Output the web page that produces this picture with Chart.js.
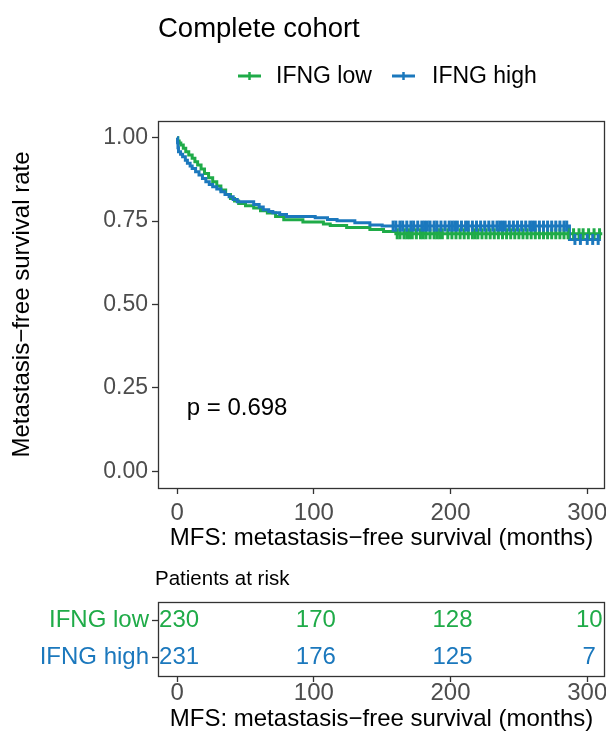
<!DOCTYPE html>
<html>
<head>
<meta charset="utf-8">
<script src="https://cdn.jsdelivr.net/npm/chart.js@4.4.1/dist/chart.umd.min.js"></script>
<style>
  html, body { margin: 0; padding: 0; background: #ffffff; }
  #wrap { position: relative; width: 606px; height: 731px; overflow: hidden; background: #fff; }
  #main { position: absolute; left: 0; top: 0; }
  #risk { position: absolute; left: 0; top: 560px; }
</style>
</head>
<body>
<div id="wrap">
  <canvas id="main" width="606" height="560"></canvas>
  <canvas id="risk" width="606" height="176"></canvas>
</div>
<script>
// ---------------- data ----------------
const groups = ['IFNG low', 'IFNG high'];
const xTicks = [0, 100, 200, 300];
const yTicks = [0, 0.25, 0.5, 0.75, 1];

// Kaplan-Meier steps: time (months) at which survival changes to the value
const lowTimes = [0, 0.5, 1.5, 2.7, 4.5, 6.3, 8.5, 11, 13, 15, 17.5, 20, 23, 26, 29, 32, 35.5, 39, 42, 45, 50, 56, 61, 66, 72, 78, 92, 107, 112, 124, 141, 151, 160, 311];
const lowSurv  = [1.0, 0.99, 0.984, 0.978, 0.968, 0.958, 0.948, 0.938, 0.928, 0.918, 0.906, 0.893, 0.88, 0.868, 0.855, 0.843, 0.83, 0.818, 0.81, 0.803, 0.796, 0.789, 0.781, 0.774, 0.764, 0.754, 0.747, 0.741, 0.737, 0.731, 0.725, 0.719, 0.712, 0.712];

const highTimes = [0, 0.3, 0.6, 1, 2.5, 4, 6, 7.5, 9.5, 11, 13.5, 16, 18.5, 21, 23.5, 26, 29, 32, 35, 38, 41, 44, 56, 60, 63, 67, 70, 75, 80, 101, 110, 117, 130, 141, 150, 287, 310];
const highSurv  = [1.0, 0.985, 0.97, 0.958, 0.95, 0.943, 0.932, 0.923, 0.915, 0.908, 0.898, 0.888, 0.878, 0.868, 0.86, 0.853, 0.846, 0.838, 0.83, 0.823, 0.815, 0.808, 0.8, 0.792, 0.784, 0.779, 0.775, 0.77, 0.764, 0.76, 0.755, 0.751, 0.745, 0.738, 0.735, 0.695, 0.695];

// censoring times (months)
const lowCensor  = [161, 163, 166, 168, 170, 172, 175, 178, 180, 182, 185, 188, 190, 192, 194, 198, 201, 204, 207, 210, 213, 216, 218, 220, 223, 226, 229, 232, 235, 238, 241, 244, 247, 250, 253, 256, 259, 262, 265, 268, 271, 274, 277, 280, 283, 286, 290, 294, 297, 301, 305, 309];
const highCensor = [158, 160, 163, 165, 168, 171, 173, 176, 179, 181, 183, 185, 188, 190, 193, 196, 199, 201, 203, 205, 208, 211, 213, 216, 219, 222, 225, 228, 231, 234, 236, 238, 240, 243, 246, 249, 252, 255, 258, 260, 262, 265, 268, 271, 274, 277, 280, 283, 285, 291, 295, 300, 304, 308];

// patients at risk
const riskTimes = [0, 100, 200, 300];
const riskLow   = [230, 170, 128, 10];
const riskHigh  = [231, 176, 125, 7];

const pValueText = 'p = 0.698';

// ---------------- styles ----------------
const GREEN = '#1fab48';
const BLUE  = '#1b78bd';
const FONT  = "'Liberation Sans', Arial, Helvetica, sans-serif";
const AXIS_GREY = '#4d4d4d';
const LINE_DARK = '#333333';

Chart.defaults.font.family = FONT;
Chart.defaults.animation = false;

function survAt(times, surv, t) {
  let v = surv[0];
  for (let i = 0; i < times.length; i++) { if (times[i] <= t) v = surv[i]; else break; }
  return v;
}
function stepData(times, surv) { return times.map((t, i) => ({ x: t, y: surv[i] })); }
function censorData(ct, times, surv) { return ct.map(t => ({ x: t, y: survAt(times, surv, t) })); }
function noPad(s) { s.paddingLeft = 0; s.paddingRight = 0; s.paddingTop = 0; s.paddingBottom = 0; }

const xScaleBase = {
  type: 'linear', min: -14, max: 313,
  afterBuildTicks: s => { s.ticks = xTicks.map(v => ({ value: v })); },
  ticks: { color: AXIS_GREY, font: { size: 24 }, padding: 5, maxRotation: 0, autoSkip: false },
  grid: { display: true, drawOnChartArea: false, drawTicks: true, tickLength: 6, tickColor: LINE_DARK, tickWidth: 1.3 },
  border: { display: false },
  title: { display: true, text: 'MFS: metastasis\u2212free survival (months)', color: '#000', font: { size: 24 }, padding: { top: 0, bottom: 7 } }
};

const boxPlugin = {
  id: 'panelBox',
  afterDraw(chart) {
    const a = chart.chartArea, ctx = chart.ctx;
    ctx.save();
    ctx.strokeStyle = LINE_DARK; ctx.lineWidth = 1.3;
    ctx.strokeRect(a.left + 0.5, a.top + 0.5, a.right - a.left - 1, a.bottom - a.top);
    ctx.restore();
  }
};

const annotPlugin = {
  id: 'annot',
  afterDraw(chart) {
    const ctx = chart.ctx;
    ctx.save();
    ctx.fillStyle = '#000';
    ctx.font = '27.5px ' + FONT;
    ctx.textBaseline = 'alphabetic';
    ctx.textAlign = 'left';
    ctx.fillText('Complete cohort', 158, 37);
    const items = [
      { label: groups[0], color: GREEN, x0: 238, tx: 276 },
      { label: groups[1], color: BLUE, x0: 392, tx: 432 }
    ];
    ctx.font = '23px ' + FONT;
    ctx.textBaseline = 'middle';
    items.forEach(it => {
      ctx.strokeStyle = it.color; ctx.lineWidth = 3;
      ctx.beginPath(); ctx.moveTo(it.x0, 76); ctx.lineTo(it.x0 + 23, 76); ctx.stroke();
      ctx.lineWidth = 2.5;
      ctx.beginPath(); ctx.moveTo(it.x0 + 11.5, 72); ctx.lineTo(it.x0 + 11.5, 80); ctx.stroke();
      ctx.fillStyle = '#000';
      ctx.fillText(it.label, it.tx, 77);
    });
    const xs = chart.scales.x, ys = chart.scales.y;
    ctx.font = '24px ' + FONT;
    ctx.textAlign = 'left';
    ctx.fillText(pValueText, xs.getPixelForValue(7), ys.getPixelForValue(0.19));
    ctx.restore();
  }
};

new Chart(document.getElementById('main'), {
  type: 'scatter',
  data: {
    datasets: [
      { type: 'line', label: groups[0], data: stepData(lowTimes, lowSurv), stepped: true, borderColor: GREEN, borderWidth: 3, pointRadius: 0, fill: false, order: 4 },
      { type: 'line', label: groups[1], data: stepData(highTimes, highSurv), stepped: true, borderColor: BLUE, borderWidth: 3, pointRadius: 0, fill: false, order: 3 },
      { label: groups[0] + ' censored', data: censorData(lowCensor, lowTimes, lowSurv), pointStyle: 'line', rotation: 90, radius: 5.5, borderWidth: 3, borderColor: GREEN, backgroundColor: GREEN, order: 2 },
      { label: groups[1] + ' censored', data: censorData(highCensor, highTimes, highSurv), pointStyle: 'line', rotation: 90, radius: 5.5, borderWidth: 3, borderColor: BLUE, backgroundColor: BLUE, order: 1 }
    ]
  },
  options: {
    responsive: false,
    devicePixelRatio: 1,
    layout: { autoPadding: false, padding: { top: 121, right: 1, left: 0, bottom: 0 } },
    plugins: { legend: { display: false }, tooltip: { enabled: false }, title: { display: false } },
    scales: {
      x: Object.assign({}, xScaleBase, { afterFit: s => { s.height = 72; noPad(s); } }),
      y: {
        type: 'linear', min: -0.05, max: 1.05,
        afterBuildTicks: s => { s.ticks = yTicks.map(v => ({ value: v })); },
        afterFit: s => { s.width = 158; noPad(s); },
        ticks: { color: AXIS_GREY, font: { size: 23 }, padding: 4, callback: v => Number(v).toFixed(2) },
        grid: { display: true, drawOnChartArea: false, drawTicks: true, tickLength: 6, tickColor: LINE_DARK, tickWidth: 1.3 },
        border: { display: false },
        title: { display: true, text: 'Metastasis\u2212free survival rate', color: '#000', font: { size: 24 }, padding: { top: 8 } }
      }
    }
  },
  plugins: [boxPlugin, annotPlugin]
});

// ---------------- risk table ----------------
const riskValues = [riskLow, riskHigh];
const riskColors = [GREEN, BLUE];
const riskPlugin = {
  id: 'riskText',
  afterDraw(chart) {
    const ctx = chart.ctx;
    ctx.save();
    ctx.font = '24px ' + FONT;
    ctx.textAlign = 'center';
    ctx.textBaseline = 'middle';
    chart.data.datasets.forEach((ds, di) => {
      const meta = chart.getDatasetMeta(di);
      meta.data.forEach((pt, i) => {
        ctx.fillStyle = riskColors[di];
        ctx.fillText(String(riskValues[di][i]), pt.x + 2, pt.y);
      });
    });
    ctx.fillStyle = '#000';
    ctx.font = '20.5px ' + FONT;
    ctx.textAlign = 'left';
    ctx.fillText('Patients at risk', 155, 19);
    ctx.restore();
  }
};

new Chart(document.getElementById('risk'), {
  type: 'scatter',
  data: {
    datasets: [
      { label: groups[0], data: riskTimes.map(t => ({ x: t, y: groups[0] })), pointRadius: 0 },
      { label: groups[1], data: riskTimes.map(t => ({ x: t, y: groups[1] })), pointRadius: 0 }
    ]
  },
  options: {
    responsive: false,
    devicePixelRatio: 1,
    layout: { autoPadding: false, padding: { top: 42, right: 1, left: 0, bottom: 0 } },
    plugins: { legend: { display: false }, tooltip: { enabled: false } },
    scales: {
      x: Object.assign({}, xScaleBase, {
        afterFit: s => { s.height = 60; noPad(s); },
        ticks: Object.assign({}, xScaleBase.ticks, { padding: -3 }),
        title: Object.assign({}, xScaleBase.title, { padding: { top: 0, bottom: 2 } })
      }),
      y: {
        type: 'category', labels: groups, offset: true,
        afterFit: s => { s.width = 158; noPad(s); },
        ticks: { color: c => riskColors[c.index], font: { size: 24 }, padding: 3 },
        grid: { display: true, drawOnChartArea: false, drawTicks: true, tickLength: 6, tickColor: LINE_DARK, tickWidth: 1.3, offset: false },
        border: { display: false }
      }
    }
  },
  plugins: [boxPlugin, riskPlugin]
});
</script>
</body>
</html>
